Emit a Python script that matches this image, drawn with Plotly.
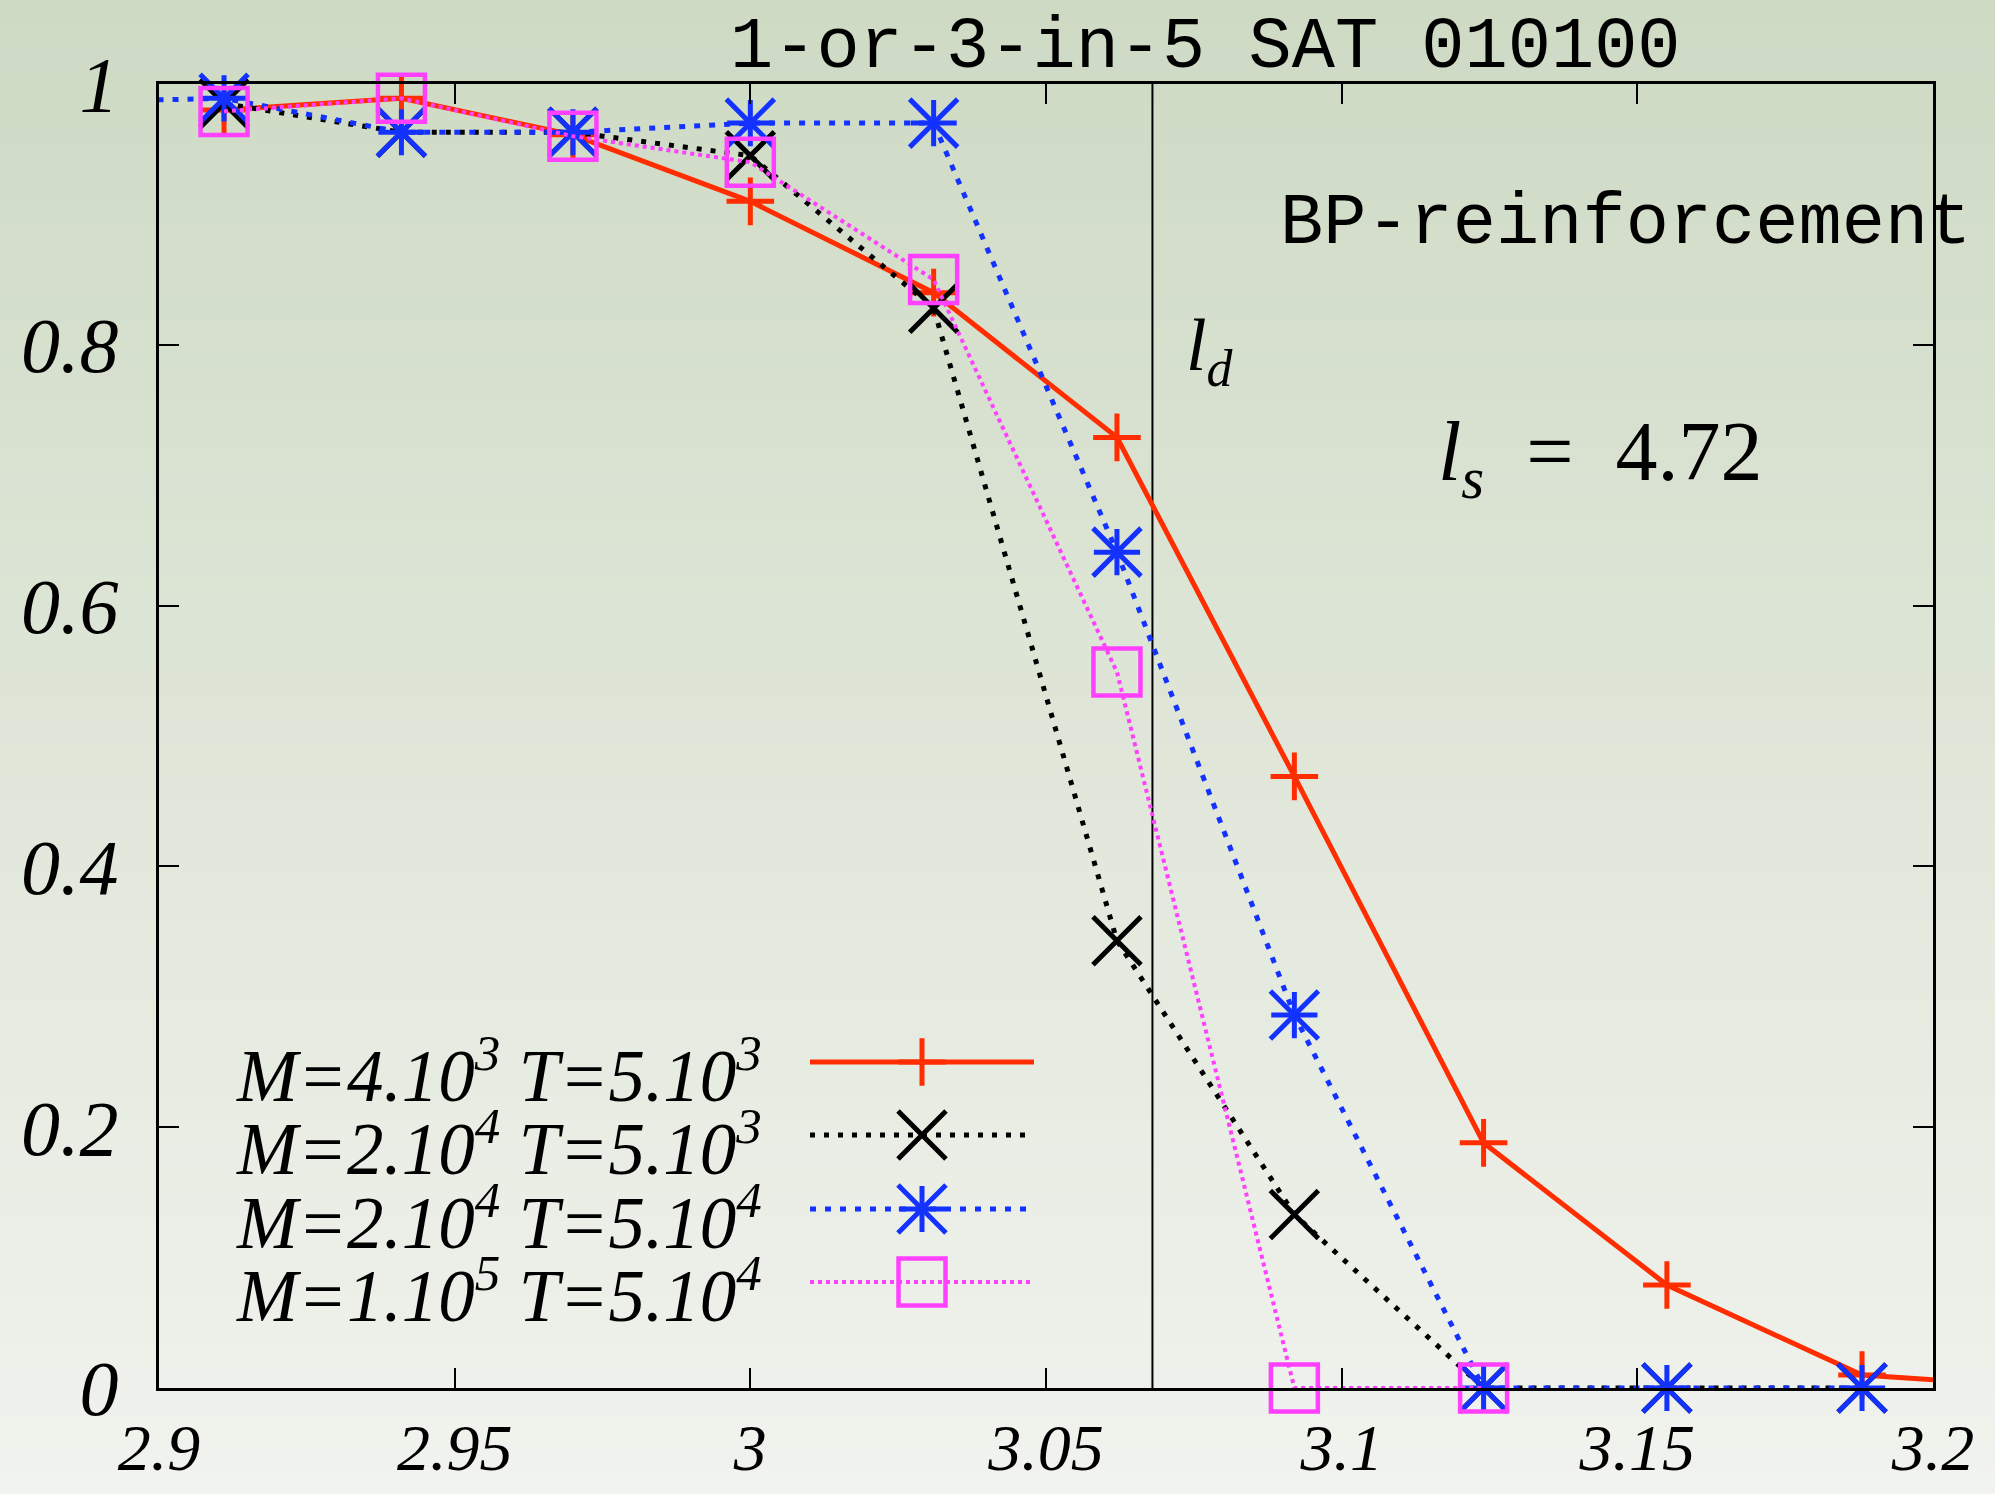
import plotly.graph_objects as go

# ---------------- data ----------------
x_red = [2.911, 2.941, 2.970, 3.000, 3.031, 3.062, 3.092, 3.124, 3.155, 3.188, 3.220]
y_red = [0.980, 0.989, 0.961, 0.910, 0.840, 0.729, 0.469, 0.188, 0.079, 0.010, 0.000]

x_black = [2.911, 2.941, 2.970, 3.000, 3.031, 3.062, 3.092, 3.124, 3.155, 3.188]
y_black = [0.985, 0.963, 0.963, 0.945, 0.828, 0.343, 0.133, 0.000, 0.000, 0.000]

x_blue = [2.882, 2.911, 2.941, 2.970, 3.000, 3.031, 3.062, 3.092, 3.124, 3.155, 3.188]
y_blue = [0.986, 0.989, 0.963, 0.963, 0.970, 0.970, 0.641, 0.286, 0.000, 0.000, 0.000]

x_mag = [2.911, 2.941, 2.970, 3.000, 3.031, 3.062, 3.092, 3.124]
y_mag = [0.979, 0.989, 0.960, 0.940, 0.850, 0.549, 0.000, 0.000]

series_labels = [
    "<i>M=4.10<sup>3</sup> T=5.10<sup>3</sup></i>",
    "<i>M=2.10<sup>4</sup> T=5.10<sup>3</sup></i>",
    "<i>M=2.10<sup>4</sup> T=5.10<sup>4</sup></i>",
    "<i>M=1.10<sup>5</sup> T=5.10<sup>4</sup></i>",
]

l_d = 3.068
x_tickvals = [2.9, 2.95, 3.0, 3.05, 3.1, 3.15, 3.2]
x_ticktext = ["2.9", "2.95", "3", "3.05", "3.1", "3.15", "3.2"]
y_tickvals = [0, 0.2, 0.4, 0.6, 0.8, 1.0]
y_ticktext = ["0", "0.2", "0.4", "0.6", "0.8", "1"]

title_text = "1-or-3-in-5 SAT 010100"
method_text = "BP-reinforcement"
ls_text = "<i>l</i><sub><i>s</i></sub>&nbsp;&nbsp;=&nbsp;&nbsp;4.72"
ld_text = "<i>l<sub>d</sub></i>"

# ---------------- geometry / style ----------------
W, H = 1995, 1494
ML, MR, MT, MB = 159, 62, 84, 106
PW = W - ML - MR
PH = H - MT - MB

def px(xp):
    return (xp - ML) / PW

def py(yp):
    return (MT + PH - yp) / PH

RED = "#ff2d00"
BLACK = "#000000"
BLUE = "#1432ff"
MAG = "#ff40ff"
SERIF = "Liberation Serif, Times New Roman, serif"
MONO = "Liberation Mono, Courier New, monospace"

fig = go.Figure()

# background gradient
top_c = (206, 218, 196)
bot_c = (241, 243, 238)
N = 60
y_lo, y_hi = py(H), py(0)
for i in range(N):
    t = (i + 0.5) / N
    c = tuple(int(round(top_c[k] + (bot_c[k] - top_c[k]) * t)) for k in range(3))
    y1 = y_hi - (y_hi - y_lo) * i / N
    y0 = y_hi - (y_hi - y_lo) * (i + 1) / N
    fig.add_shape(type="rect", xref="paper", yref="paper",
                  x0=px(-5), x1=px(W + 5), y0=y0 - 0.001, y1=y1 + 0.001,
                  fillcolor="rgb(%d,%d,%d)" % c, line=dict(width=0), layer="below")

# vertical l_d line
fig.add_trace(go.Scatter(x=[l_d, l_d], y=[0, 1], mode="lines",
                         line=dict(color=BLACK, width=2), showlegend=False, hoverinfo="skip"))

styles = [
    dict(line=dict(color=RED, width=5),
         markers=[dict(symbol="cross-thin", size=34, color=RED, line=dict(color=RED, width=5))]),
    dict(line=dict(color=BLACK, width=5, dash="5px,9px"),
         markers=[dict(symbol="x-thin", size=48, color=BLACK, line=dict(color=BLACK, width=5))]),
    dict(line=dict(color=BLUE, width=5, dash="6px,9px"),
         markers=[dict(symbol="x-thin", size=48, color=BLUE, line=dict(color=BLUE, width=5)),
                  dict(symbol="cross-thin", size=33, color=BLUE, line=dict(color=BLUE, width=5))]),
    dict(line=dict(color=MAG, width=4, dash="4px,4px"),
         markers=[dict(symbol="square-open", size=47, color=MAG, line=dict(color=MAG, width=4.5))]),
]
data = [(x_red, y_red), (x_black, y_black), (x_blue, y_blue), (x_mag, y_mag)]

for (xs, ys), st in zip(data, styles):
    fig.add_trace(go.Scatter(x=xs, y=ys, mode="lines", line=st["line"],
                             showlegend=False, hoverinfo="skip"))
    for mk in st["markers"]:
        fig.add_trace(go.Scatter(x=xs, y=ys, mode="markers", marker=mk, cliponaxis=False,
                                 showlegend=False, hoverinfo="skip"))

# custom legend (text left, sample right)
leg_rows_y = [1062, 1135, 1209, 1282]
for lab, st, ry in zip(series_labels, styles, leg_rows_y):
    fig.add_trace(go.Scatter(x=[px(810), px(1034)], y=[py(ry), py(ry)], mode="lines",
                             line=st["line"], xaxis="x2", yaxis="y2",
                             showlegend=False, hoverinfo="skip"))
    for mk in st["markers"]:
        fig.add_trace(go.Scatter(x=[px(922)], y=[py(ry)], mode="markers", marker=mk,
                                 xaxis="x2", yaxis="y2", cliponaxis=False,
                                 showlegend=False, hoverinfo="skip"))
    fig.add_annotation(text=lab, xref="paper", yref="paper", x=px(764), y=py(ry + 8),
                       xanchor="right", yanchor="middle", showarrow=False,
                       font=dict(family=SERIF, size=73, color=BLACK))

# title and text labels
fig.add_annotation(text=title_text, xref="paper", yref="paper", x=px(1205), y=py(48),
                   xanchor="center", yanchor="middle", showarrow=False,
                   font=dict(family=MONO, size=72, color=BLACK))
fig.add_annotation(text=method_text, xref="paper", yref="paper", x=px(1278), y=py(224),
                   xanchor="left", yanchor="middle", showarrow=False,
                   font=dict(family=MONO, size=72, color=BLACK))
fig.add_annotation(text=ld_text, xref="paper", yref="paper", x=px(1184), y=py(350),
                   xanchor="left", yanchor="middle", showarrow=False,
                   font=dict(family=SERIF, size=74, color=BLACK))
fig.add_annotation(text=ls_text, xref="paper", yref="paper", x=px(1436), y=py(458),
                   xanchor="left", yanchor="middle", showarrow=False,
                   font=dict(family=SERIF, size=84, color=BLACK))

axis_common = dict(showline=True, linecolor=BLACK, linewidth=3, mirror="allticks",
                   ticks="inside", ticklen=20, tickwidth=2, tickcolor=BLACK,
                   showgrid=False, zeroline=False, automargin=False)

fig.update_layout(
    width=W, height=H, autosize=False,
    margin=dict(l=ML, r=MR, t=MT, b=MB, pad=0),
    paper_bgcolor="rgb(224,230,218)",
    plot_bgcolor="rgba(0,0,0,0)",
    showlegend=False,
    xaxis=dict(range=[2.9, 3.2], tickvals=x_tickvals, ticktext=x_ticktext,
               tickfont=dict(family=SERIF, size=66, color=BLACK, style="italic"),
               ticklabelstandoff=0, **axis_common),
    yaxis=dict(range=[0, 1], tickvals=y_tickvals, ticktext=y_ticktext,
               tickfont=dict(family=SERIF, size=78, color=BLACK, style="italic"),
               ticklabelstandoff=22, **axis_common),
    xaxis2=dict(overlaying="x", range=[0, 1], visible=False, fixedrange=True),
    yaxis2=dict(overlaying="y", range=[0, 1], visible=False, fixedrange=True),
)

fig.write_html("out.html", config={"displayModeBar": False},
               post_script="document.body.style.margin='0px';document.body.style.overflow='hidden';")
